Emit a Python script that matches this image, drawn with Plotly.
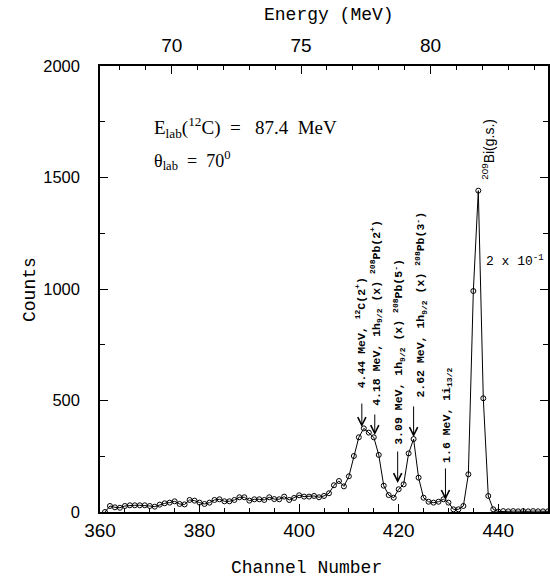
import plotly.graph_objects as go

# ---- data ----
channels = list(range(361, 451))
counts = [0, 27, 21, 19, 27, 30, 30, 30, 30, 27,
          24, 33, 39, 42, 48, 36, 34, 54, 51, 42,
          36, 42, 54, 57, 48, 48, 54, 66, 66, 51,
          57, 57, 54, 66, 58, 57, 69, 54, 63, 75,
          69, 69, 72, 66, 72, 84, 120, 139, 115, 160,
          251, 335, 375, 356, 335, 256, 118, 76, 64, 102,
          124, 263, 327, 154, 64, 46, 42, 46, 57, 42,
          12, 12, 27, 169, 991, 1441, 510, 72, 12, 2,
          4, 3, 4, 3, 4, 3, 4, 3, 3, 3]

energy_ticks = [70, 75, 80]
energy_range = [67.23, 84.54]

# arrow annotations: (channel, tip count, tail count)
arrow_ch = [412.6, 415.2, 419.8, 423.0, 429.4]
arrow_tip = [381, 345, 130, 336, 54]
arrow_tail = [493, 444, 278, 480, 202]

label_ch = [412.4, 415.4, 420.0, 424.4, 429.8]
label_base = [547, 466, 291, 502, 211]
label_text = [
    "4.44 MeV, <sup>12</sup>C(2<sup>+</sup>)",
    "4.18 MeV, 1h<sub>9/2</sub> (x) <sup>208</sup>Pb(2<sup>+</sup>)",
    "3.09 MeV, 1h<sub>9/2</sub> (x) <sup>208</sup>Pb(5<sup>-</sup>)",
    "2.62 MeV, 1h<sub>9/2</sub> (x) <sup>208</sup>Pb(3<sup>-</sup>)",
    "1.6 MeV, 1i<sub>13/2</sub>",
]

fig = go.Figure()
fig.add_trace(go.Scatter(
    x=channels, y=counts, mode="lines+markers",
    line=dict(color="black", width=1),
    marker=dict(symbol="circle-open", size=5, color="black", line=dict(width=1)),
    showlegend=False, hoverinfo="skip"))
# invisible trace to carry the top energy axis
fig.add_trace(go.Scatter(
    x=energy_range, y=[0, 0], xaxis="x2", mode="markers",
    marker=dict(opacity=0), showlegend=False, hoverinfo="skip"))

tickfont_x = dict(family="Liberation Sans", size=19, color="black")
tickfont_y = dict(family="Liberation Sans", size=16.5, color="black")

fig.update_layout(
    width=550, height=582,
    margin=dict(l=100, r=0, t=66, b=70),
    plot_bgcolor="white", paper_bgcolor="white",
    xaxis=dict(range=[360, 450], tick0=360, dtick=20, ticks="inside", ticklen=8,
               tickwidth=1, tickcolor="black", showline=True, linecolor="black",
               linewidth=1.5, showgrid=False, zeroline=False, tickfont=tickfont_x,
               minor=dict(dtick=5, tick0=360, ticks="inside", ticklen=4, tickcolor="black", showgrid=False)),
    xaxis2=dict(range=energy_range, overlaying="x", side="top", anchor="y",
                tickvals=energy_ticks, ticks="inside", ticklen=8, tickwidth=1,
                tickcolor="black", showline=True, linecolor="black", linewidth=1.5,
                showgrid=False, zeroline=False, tickfont=tickfont_x, ticklabelstandoff=5,
                minor=dict(dtick=1, tick0=70, ticks="inside", ticklen=4, tickcolor="black", showgrid=False)),
    yaxis=dict(range=[0, 2000], tick0=0, dtick=500, ticks="inside", ticklen=8,
               tickwidth=1, tickcolor="black", showline=True, linecolor="black",
               linewidth=1.5, mirror="ticks", showgrid=False, zeroline=False,
               tickfont=tickfont_y, ticklabelstandoff=15,
               minor=dict(dtick=250, ticks="inside", ticklen=5, tickcolor="black", showgrid=False)),
)

ann_font = dict(family="Liberation Mono", size=11.5, color="black", weight="bold")
ann = []
for c, t0, t1 in zip(arrow_ch, arrow_tip, arrow_tail):
    ann.append(dict(x=c, y=t0, ax=c, ay=t1, xref="x", yref="y", axref="x", ayref="y",
                    text="", showarrow=True, arrowhead=5, arrowsize=1.6, arrowwidth=1,
                    arrowcolor="black"))
for c, b, txt in zip(label_ch, label_base, label_text):
    ann.append(dict(x=c, y=b, xref="x", yref="y", text=txt, showarrow=False,
                    textangle=-90, xanchor="center", yanchor="bottom", font=ann_font))
ann.append(dict(x=438.0, y=1480, xref="x", yref="y", text="<sup>209</sup>Bi(g.s.)",
                showarrow=False, textangle=-90, xanchor="center", yanchor="bottom",
                font=dict(family="Liberation Sans", size=14, color="black")))
ann.append(dict(x=437.2, y=1130, xref="x", yref="y", text="2 x 10<sup>-1</sup>",
                showarrow=False, xanchor="left", yanchor="middle",
                font=dict(family="Liberation Mono", size=13, color="black")))
ann.append(dict(x=370.4, y=1726, xref="x", yref="y",
                text="E<sub>lab</sub>(<sup>12</sup>C)\u00a0 =\u00a0\u00a0 87.4\u00a0 MeV",
                showarrow=False, xanchor="left", yanchor="middle",
                font=dict(family="Liberation Serif", size=19, color="black")))
ann.append(dict(x=370.4, y=1578, xref="x", yref="y",
                text="θ<sub>lab</sub>\u00a0 =\u00a0 70<sup>0</sup>",
                showarrow=False, xanchor="left", yanchor="middle",
                font=dict(family="Liberation Serif", size=18, color="black")))
# axis titles
ann.append(dict(x=0.462, y=-0.126, xref="paper", yref="paper", text="Channel Number",
                showarrow=False, xanchor="center", yanchor="middle",
                font=dict(family="Liberation Mono", size=18, color="black")))
ann.append(dict(x=0.511, y=1.114, xref="paper", yref="paper", text="Energy (MeV)",
                showarrow=False, xanchor="center", yanchor="middle",
                font=dict(family="Liberation Mono", size=18, color="black")))
ann.append(dict(x=-0.156, y=0.498, xref="paper", yref="paper", text="Counts",
                showarrow=False, textangle=-90, xanchor="center", yanchor="middle",
                font=dict(family="Liberation Mono", size=18, color="black")))
fig.update_layout(annotations=ann)

fig.write_html("out.html", config={"displayModeBar": False},
               post_script="document.body.style.margin='0';document.body.style.overflow='hidden';")
